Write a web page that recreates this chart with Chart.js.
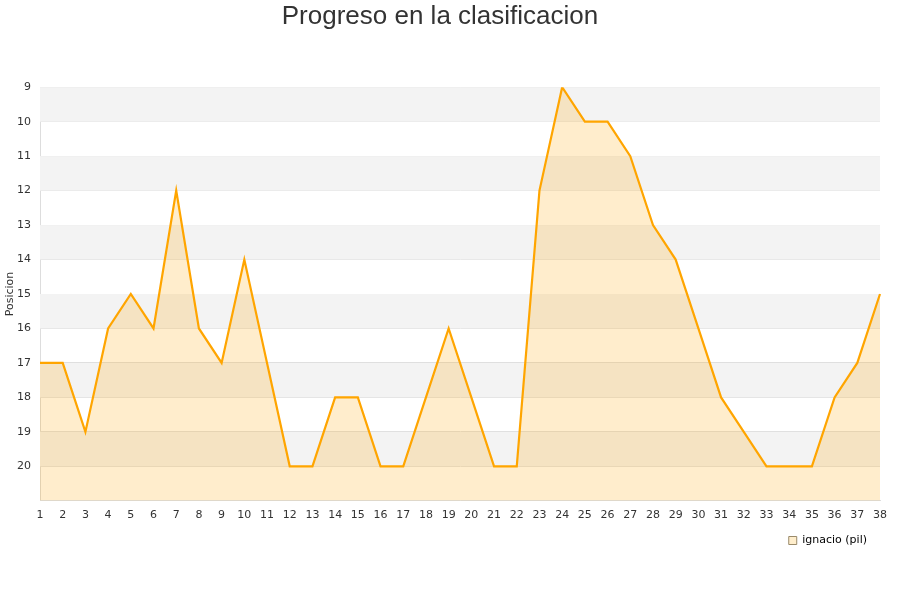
<!DOCTYPE html>
<html>
<head>
<meta charset="utf-8">
<script src="https://cdn.jsdelivr.net/npm/chart.js@4"></script>
<style>
  html, body { margin: 0; padding: 0; background: #fff; }
  #wrap { width: 900px; height: 600px; }
</style>
</head>
<body>
<div id="wrap"><canvas id="myChart"></canvas></div>
<script>
"use strict";

const jornadas = [];
for (let i = 1; i <= 38; i++) jornadas.push(String(i));
const posiciones = [17, 17, 19, 16, 15, 16, 12, 16, 17, 14, 17, 20, 20, 18, 18, 20, 20, 18, 16, 18,
  20, 20, 12, 9, 10, 10, 11, 13, 14, 16, 18, 19, 20, 20, 20, 18, 17, 15];
const serieNombre = "ignacio (pil)";
const posMin = 9;
const posMax = 21;

// alternating grey / white bands behind the line
const bandas = {
  id: "bandas",
  beforeDatasetsDraw(chart) {
    const { ctx, chartArea, scales } = chart;
    ctx.save();
    for (let v = posMin; v < posMax; v += 2) {
      const y1 = scales.y.getPixelForValue(v);
      const y2 = scales.y.getPixelForValue(v + 1);
      ctx.fillStyle = "#f3f3f3";
      ctx.fillRect(chartArea.left, y1, chartArea.right - chartArea.left, y2 - y1);
    }
    ctx.restore();
  },
};

const ctx = document.getElementById("myChart");

new Chart(ctx, {
  type: "line",
  data: {
    labels: jornadas,
    datasets: [
      {
        label: serieNombre,
        data: posiciones,
        borderColor: "#ffa500",
        backgroundColor: "rgba(255,165,0,0.2)",
        borderWidth: 2.2,
        pointRadius: 0,
        tension: 0,
        fill: { value: posMax },
      },
    ],
  },
  options: {
    responsive: true,
    maintainAspectRatio: false,
    animation: false,
    layout: { padding: { left: 0, right: 20, top: 0, bottom: 44 } },
    plugins: {
      title: {
        display: true,
        text: "Progreso en la clasificacion",
        color: "#333",
        font: { family: "Liberation Sans, Arial", size: 26, weight: "normal" },
        padding: { top: 1, bottom: 55 },
      },
      legend: {
        position: "bottom",
        align: "end",
        labels: {
          boxWidth: 8,
          boxHeight: 8,
          padding: 13,
          color: "#222",
          font: { family: "DejaVu Sans", size: 11 },
          generateLabels() {
            return [{
              text: serieNombre,
              fillStyle: "#ffeecc",
              strokeStyle: "#9a8a6a",
              lineWidth: 1,
              datasetIndex: 0,
            }];
          },
        },
      },
      tooltip: { enabled: false },
    },
    scales: {
      x: {
        offset: false,
        grid: { display: false },
        border: { color: "#ddd" },
        ticks: {
          color: "#333",
          autoSkip: false,
          maxRotation: 0,
          padding: 0,
          font: { family: "DejaVu Sans", size: 11 },
        },
      },
      y: {
        reverse: true,
        min: posMin,
        max: posMax,
        afterFit(scale) { scale.width = 40; },
        title: {
          display: true,
          text: "Posicion",
          color: "#333",
          font: { family: "DejaVu Sans", size: 11 },
          padding: { top: 4, bottom: 0 },
        },
        grid: { color: "#ddd", drawTicks: false },
        border: { color: "#ddd" },
        ticks: {
          stepSize: 1,
          color: "#333",
          padding: 9,
          font: { family: "DejaVu Sans", size: 11 },
          callback: (v) => (v === posMax ? "" : v),
        },
      },
    },
  },
  plugins: [bandas],
});
</script>
</body>
</html>
